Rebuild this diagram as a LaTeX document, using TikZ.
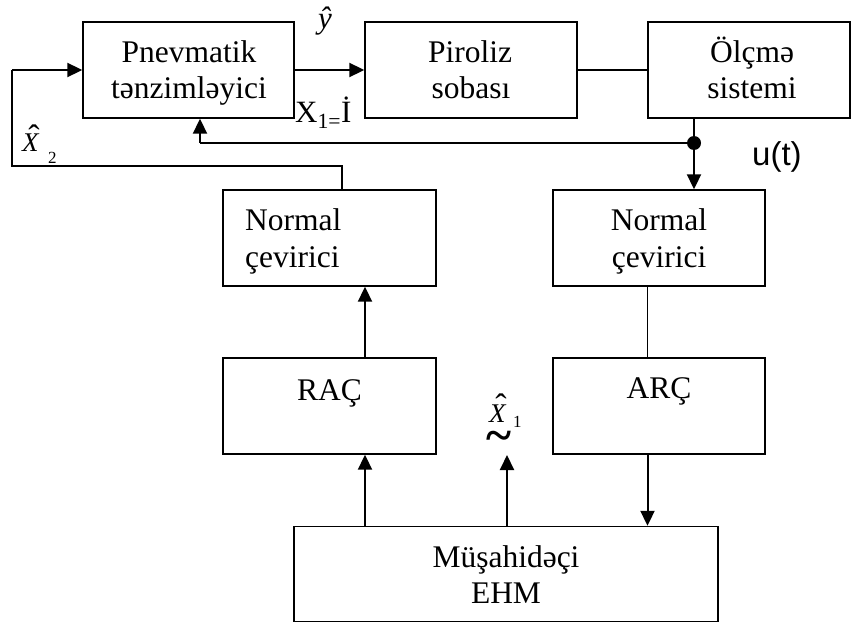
\documentclass[tikz,border=0pt]{standalone}
\usepackage{fontspec}
\setmainfont{Liberation Serif}
\newfontfamily\sansf{Liberation Sans}
\usetikzlibrary{arrows.meta}
\tikzset{
  blk/.style={draw, line width=1.4pt, inner sep=0pt, minimum height=96pt},
  txt/.style={inner sep=0pt, anchor=base, font=\fontsize{31.5}{37}\selectfont},
  arr/.style={line width=2pt, -{Triangle[length=15pt,width=14pt]}},
  thk/.style={line width=2pt},
  thn/.style={line width=1.8pt},
  lbl/.style={inner sep=0pt, anchor=base west},
  xf/.style={lbl, font=\itshape\fontsize{27}{30}\selectfont},
  subf/.style={lbl, font=\fontsize{17}{20}\selectfont},
  hatf/.style={inner sep=0pt, anchor=base, font=\fontsize{34}{34}\selectfont},
}
\begin{document}
\begin{tikzpicture}[x=1pt,y=-1pt]
\useasboundingbox (0,0) rectangle (851,623);
% boxes
\node[blk, minimum width=211pt] (pn) at (188.5,70) {};
\node[blk, minimum width=212pt] (pir) at (471,70) {};
\node[blk, minimum width=202pt] (olc) at (749,70) {};
\node[blk, minimum width=213pt] (nl) at (329.5,238) {};
\node[blk, minimum width=212pt] (nr) at (659,238) {};
\node[blk, minimum width=213pt] (rac) at (329.5,406) {};
\node[blk, minimum width=212pt] (arc) at (659,406) {};
\node[blk, minimum width=424pt, minimum height=95pt] (ehm) at (506,574) {};
% box texts
\node[txt] (pnA) at (189,63) {Pnevmatik};
\node[txt] (pnB) at (189,99) {tənzimləyici};
\node[txt] (pirA) at (470,63) {Piroliz};
\node[txt] (pirB) at (471,99) {sobası};
\node[txt] (olcA) at (752,63) {Ölçmə};
\node[txt] (olcB) at (752,99) {sistemi};
\node[txt, anchor=base west] (nlA) at (245,230) {Normal};
\node[txt, anchor=base west] (nlB) at (245,267) {çevirici};
\node[txt] (nrA) at (659,230) {Normal};
\node[txt] (nrB) at (659,267) {çevirici};
\node[txt] (ract) at (329.5,400) {RAÇ};
\node[txt] (arct) at (659,398) {ARÇ};
\node[txt] (ehmA) at (506,567) {Müşahidəçi};
\node[txt] (ehmB) at (506,603) {EHM};
% coordinates
\coordinate (dot) at (694,143);
\coordinate (fb) at (200,143);
\coordinate (c1) at (342,166);
\coordinate (c2) at (12,166);
\coordinate (xr) at (365,0);
\coordinate (xl) at (647.5,0);
\coordinate (x1) at (507,455);
% connectors
\draw[arr] (pn.east) -- (pir.west);
\draw[thn] (pir.east) -- (olc.west);
\draw[thk] (olc.south -| dot) -- (dot);
\draw[arr] (dot) -- (dot |- nr.north);
\fill (dot) circle (7pt);
\draw[thk] (dot) -- (fb);
\draw[arr] (fb) -- (fb |- pn.south);
\draw[thn] (nl.north -| c1) -- (c1) -- (c2) -- (c2 |- pn.west);
\draw[arr] (c2 |- pn.west) -- (pn.west);
\draw[arr] (ehm.north -| xr) -- (rac.south -| xr);
\draw[arr] (rac.north -| xr) -- (nl.south -| xr);
\draw[thn] (nr.south -| xl) -- (arc.north -| xl);
\draw[arr] (arc.south -| xl) -- (ehm.north -| xl);
\draw[arr] (ehm.north -| x1) -- (x1);
% labels
\node[inner sep=0pt, font=\fontsize{31}{34}\selectfont] (yh) at (325,21) {\textit{ŷ}};
\node[lbl, font=\fontsize{31}{36}\selectfont] (x1i) at (295,123) {X\textsubscript{1=}İ};
\node[lbl, font=\sansf\fontsize{33}{38}\selectfont] (ut) at (752,165) {u(t)};
\node[xf] (x2h) at (22,152) {X};
\node[hatf] (x2hat) at (34,149) {\char"02C6};
\node[subf] (x2s) at (48,164) {2};
\node[xf] (x1h) at (489,422) {X};
\node[hatf] (x1hat) at (501,417) {\char"02C6};
\node[subf] (x1s) at (513,427) {1};
\node[inner sep=0pt, font=\bfseries\fontsize{48}{48}\selectfont] (tl) at (499,441) {\textasciitilde};
\end{tikzpicture}
\end{document}
